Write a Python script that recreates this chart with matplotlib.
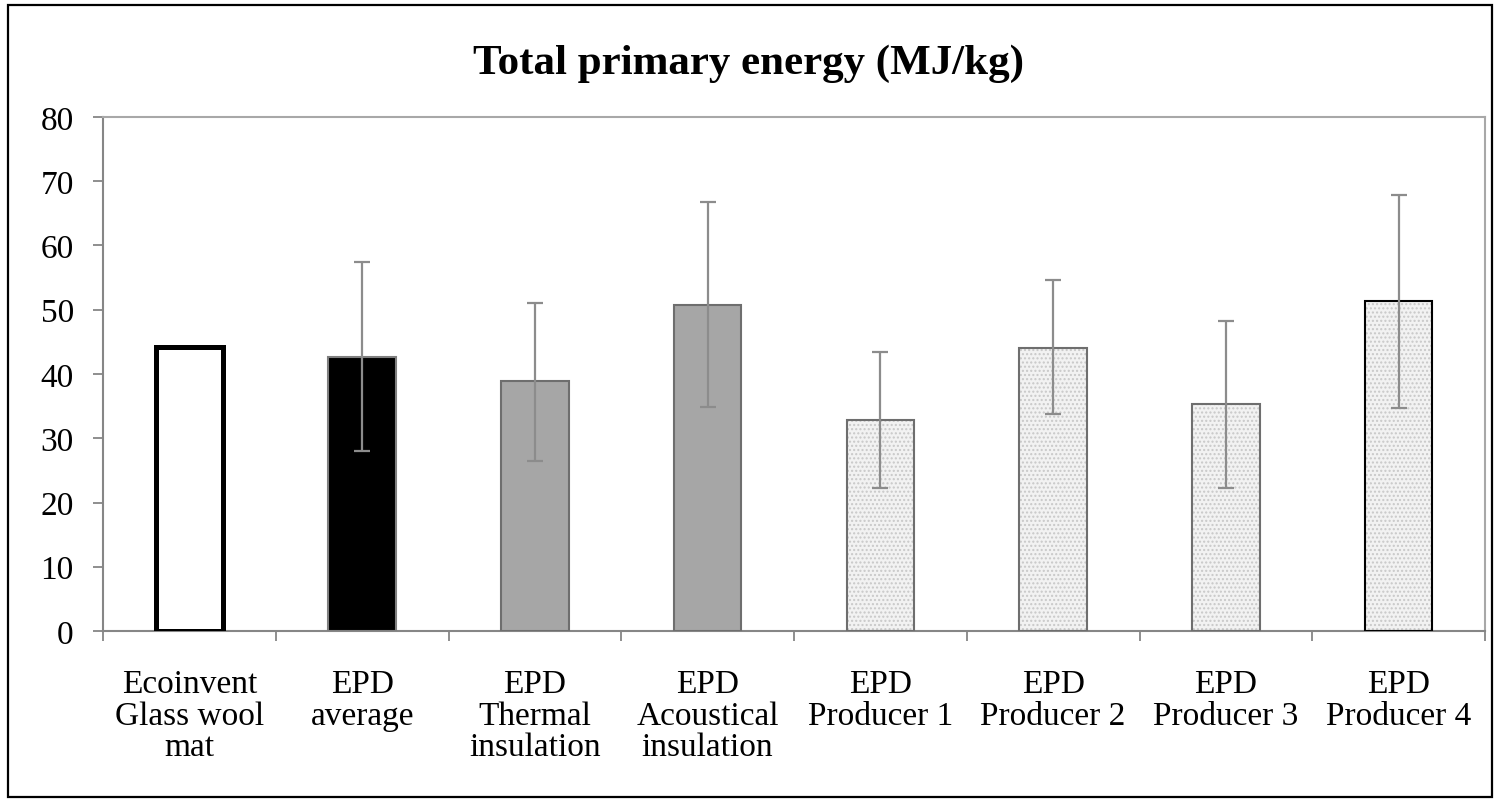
#! /usr/bin/env python

# Bar chart of total primary energy, glass wool

import numpy as np
import matplotlib
matplotlib.use("Agg")
import matplotlib.pyplot as plt
from matplotlib.patches import Rectangle

# data
labels = ["Ecoinvent\nGlass wool\nmat", "EPD\naverage", "EPD\nThermal\ninsulation",
          "EPD\nAcoustical\ninsulation", "EPD\nProducer 1", "EPD\nProducer 2",
          "EPD\nProducer 3", "EPD\nProducer 4"]
values = [44.2, 42.6, 38.9, 50.8, 32.8, 44.0, 35.3, 51.4]
err_low = [None, 28.0, 26.4, 34.8, 22.2, 33.8, 22.2, 34.7]
err_high = [None, 57.5, 51.1, 66.8, 43.4, 54.6, 48.2, 67.9]
yticks = [0, 10, 20, 30, 40, 50, 60, 70, 80]

plt.rcParams['font.family'] = ['Liberation Serif', 'DejaVu Serif']

fig = plt.figure(figsize=(14.97, 8.04), dpi=100)
ax = fig.add_axes([103/1497, 1 - 632/804, (1485 - 103)/1497, (632 - 118)/804])

x = np.arange(len(values))
w = 0.39

face = ['white', 'black', '#a6a6a6', '#a6a6a6', '#ececec', '#ececec', '#ececec', '#ececec']
edge = ['black', '#7f7f7f', '#6e6e6e', '#6e6e6e', '#6e6e6e', '#6e6e6e', '#6e6e6e', 'black']
lws = [3.6, 1.5, 1.5, 1.5, 1.5, 1.5, 1.5, 1.5]

for i in range(len(values)):
    if i >= 4:
        # stipple fill layer
        ax.bar(x[i], values[i], w, color='#f2f2f2', edgecolor='#c8c8c8',
               hatch='....', linewidth=0, zorder=2)
        ax.bar(x[i], values[i], w, fill=False, edgecolor=edge[i],
               linewidth=lws[i], zorder=3)
    else:
        ax.bar(x[i], values[i], w, color=face[i], edgecolor=edge[i],
               linewidth=lws[i], zorder=3)

# error bars
for i in range(len(values)):
    if err_low[i] is None:
        continue
    lo = values[i] - err_low[i]
    hi = err_high[i] - values[i]
    ax.errorbar(x[i], values[i], yerr=[[lo], [hi]], fmt='none', ecolor='#8c8c8c',
                elinewidth=1.6, capsize=6, capthick=1.6, zorder=4)

ax.set_ylim(0, 80)
ax.set_xlim(-0.5, 7.5)
ax.set_yticks(yticks)
ax.set_xticks(x)
ax.set_xticklabels(labels, linespacing=1.05)
ax.set_xticks(np.arange(-0.5, 8.0, 1.0), minor=True)

ax.tick_params(axis='y', direction='out', length=7, width=1.3, color='#868686',
               labelsize=24, pad=14, labelcolor='black')
ax.tick_params(axis='x', which='major', length=0, labelsize=24, pad=27)
ax.tick_params(axis='x', which='minor', direction='out', length=7, width=1.3, color='#868686')

for s in ['left', 'bottom']:
    ax.spines[s].set_color('#868686')
    ax.spines[s].set_linewidth(1.5)
for s in ['top', 'right']:
    ax.spines[s].set_color('#a8a8a8')
    ax.spines[s].set_linewidth(1.5)

fig.text(0.5, 1 - 64/804, 'Total primary energy (MJ/kg)', ha='center', va='center',
         fontsize=31, fontweight='bold')

# black frame round the figure
fig.patches.append(Rectangle((8/1497, 1 - 798/804), (1492 - 8)/1497, (798 - 6)/804,
                             transform=fig.transFigure, fill=False,
                             edgecolor='black', linewidth=1.6))

fig.savefig('out.png', dpi=100)
